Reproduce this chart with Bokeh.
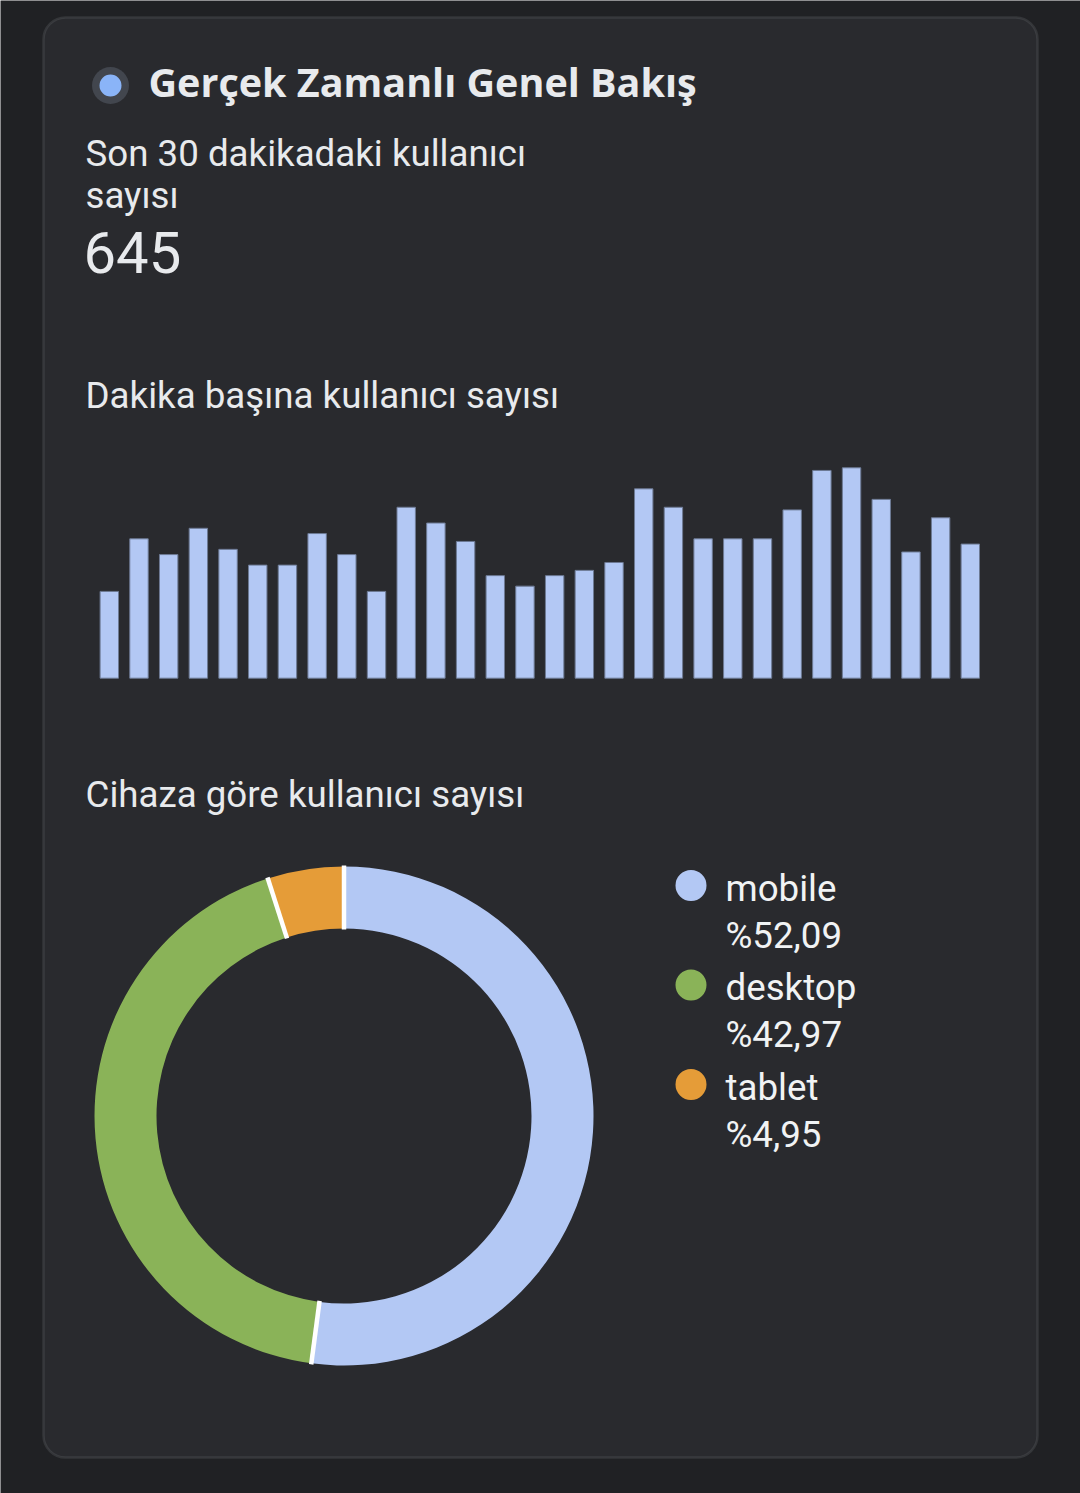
import math
from bokeh.plotting import figure
from bokeh.models import Range1d, BoxAnnotation, ColumnDataSource
from bokeh.core.properties import value
from bokeh.embed import file_html
from bokeh.resources import INLINE

# ---------------- data ----------------
title = "Gerçek Zamanlı Genel Bakış"
kpi_label_lines = ["Son 30 dakikadaki kullanıcı", "sayısı"]
kpi_value = "645"
bar_title = "Dakika başına kullanıcı sayısı"
minute_index = list(range(30))
users_per_minute = [33, 53, 47, 57, 49, 43, 43, 55, 47, 33,
                    65, 59, 52, 39, 35, 39, 41, 44, 72, 65,
                    53, 53, 53, 64, 79, 80, 68, 48, 61, 51]
donut_title = "Cihaza göre kullanıcı sayısı"
devices = ["mobile", "desktop", "tablet"]
device_share = [52.09, 42.97, 4.95]
device_share_labels = ["%52,09", "%42,97", "%4,95"]
device_colors = ["#b3c8f4", "#8ab358", "#e59c38"]

# ---------------- layout constants (reference pixels) ----------------
W, H = 1080, 1493
OUTER_BG = "#202124"
CARD_BG = "#292a2e"
TEXT = "#e8eaed"
BODY_FONT = value("Roboto")
BODY_SIZE = 36.7


def base(y_px, size):
    # convert a reference baseline (px from top) to data y, compensating the text box descent
    return -(y_px - 0.33 * size)


p = figure(width=W, height=H, x_range=Range1d(0, W), y_range=Range1d(-H, 0),
           output_backend="svg", toolbar_location=None, min_border=0,
           x_axis_location=None, y_axis_location=None,
           background_fill_color=OUTER_BG, border_fill_color=OUTER_BG, outline_line_color=None)
p.grid.visible = False

# card
p.add_layout(BoxAnnotation(left=43, right=1037, top=-17, bottom=-1457, fill_color=CARD_BG, fill_alpha=1,
                           line_color="#63666b", line_width=2.5, border_radius=22, level="underlay"))

# title with dot
p.scatter(x=[110], y=[-85], size=37, marker="circle", fill_color="#42464e", line_color=None)
p.scatter(x=[110], y=[-85], size=22, marker="circle", fill_color="#8ab4f8", line_color=None)
TITLE_SIZE = 39.5
p.text(x=[148], y=[base(95, TITLE_SIZE)], text=[title], text_font=value("Open Sans"), text_font_style="bold",
       text_font_size=f"{TITLE_SIZE}px", text_color=TEXT, text_baseline="alphabetic")

# KPI
p.text(x=[85, 85], y=[base(165, BODY_SIZE), base(207, BODY_SIZE)], text=kpi_label_lines, text_font=BODY_FONT,
       text_font_size=f"{BODY_SIZE}px", text_color=TEXT, text_baseline="alphabetic")
p.text(x=[83], y=[base(271, 58)], text=[kpi_value], text_font=BODY_FONT,
       text_font_size="58px", text_color=TEXT, text_baseline="alphabetic")

# bar section
p.text(x=[85], y=[base(407, BODY_SIZE)], text=[bar_title], text_font=BODY_FONT,
       text_font_size=f"{BODY_SIZE}px", text_color=TEXT, text_baseline="alphabetic")

BAR_X0, BAR_DX, BAR_BASE, PX_PER_USER = 108.8, 29.69, 677.7, 2.63
bx_start = minute_index[0] - BAR_X0 / BAR_DX
by_start = -(H - BAR_BASE) / PX_PER_USER
p.extra_x_ranges = {"bx": Range1d(bx_start, bx_start + W / BAR_DX)}
p.extra_y_ranges = {"by": Range1d(by_start, by_start + H / PX_PER_USER)}
bars = ColumnDataSource(dict(x=minute_index, top=users_per_minute))
p.vbar(x="x", top="top", bottom=0, width=0.62, source=bars, x_range_name="bx", y_range_name="by",
       fill_color="#b3c8f4", line_color="#6d7a94", line_width=1)

# donut section
p.text(x=[85], y=[base(806, BODY_SIZE)], text=[donut_title], text_font=BODY_FONT,
       text_font_size=f"{BODY_SIZE}px", text_color=TEXT, text_baseline="alphabetic")

CX, CY, R_IN, R_OUT = 343.5, -1115.5, 187.5, 249.5
starts, ends = [], []
a = math.pi / 2
for s in device_share:
    starts.append(a)
    a = a - 2 * math.pi * s / 100.0
    ends.append(a)
donut = ColumnDataSource(dict(start=starts, end=ends, color=device_colors))
p.annular_wedge(x=CX, y=CY, inner_radius=R_IN, outer_radius=R_OUT, start_angle="start", end_angle="end",
                direction="clock", fill_color="color", line_color=None, source=donut)
sep_x0 = [CX + (R_IN - 1) * math.cos(t) for t in starts]
sep_y0 = [CY + (R_IN - 1) * math.sin(t) for t in starts]
sep_x1 = [CX + (R_OUT + 1) * math.cos(t) for t in starts]
sep_y1 = [CY + (R_OUT + 1) * math.sin(t) for t in starts]
p.segment(x0=sep_x0, y0=sep_y0, x1=sep_x1, y1=sep_y1, line_color="white", line_width=4.5)

# legend
LEG_Y0, LEG_DY = 885, 99.5
leg_y = [-(LEG_Y0 + LEG_DY * i) for i in range(len(devices))]
p.scatter(x=[690.5] * len(devices), y=leg_y, size=31, marker="circle", fill_color=device_colors,
          line_color=None)
p.text(x=[725] * len(devices), y=[base(900 + LEG_DY * i, BODY_SIZE) for i in range(len(devices))], text=devices,
       text_font=BODY_FONT, text_font_size=f"{BODY_SIZE}px", text_color="#f1f3f4", text_baseline="alphabetic")
p.text(x=[725] * len(devices), y=[base(947 + LEG_DY * i, BODY_SIZE) for i in range(len(devices))],
       text=device_share_labels, text_font=BODY_FONT, text_font_size=f"{BODY_SIZE}px", text_color="#f1f3f4",
       text_baseline="alphabetic")

open("out.html", "w").write(file_html(p, INLINE))
